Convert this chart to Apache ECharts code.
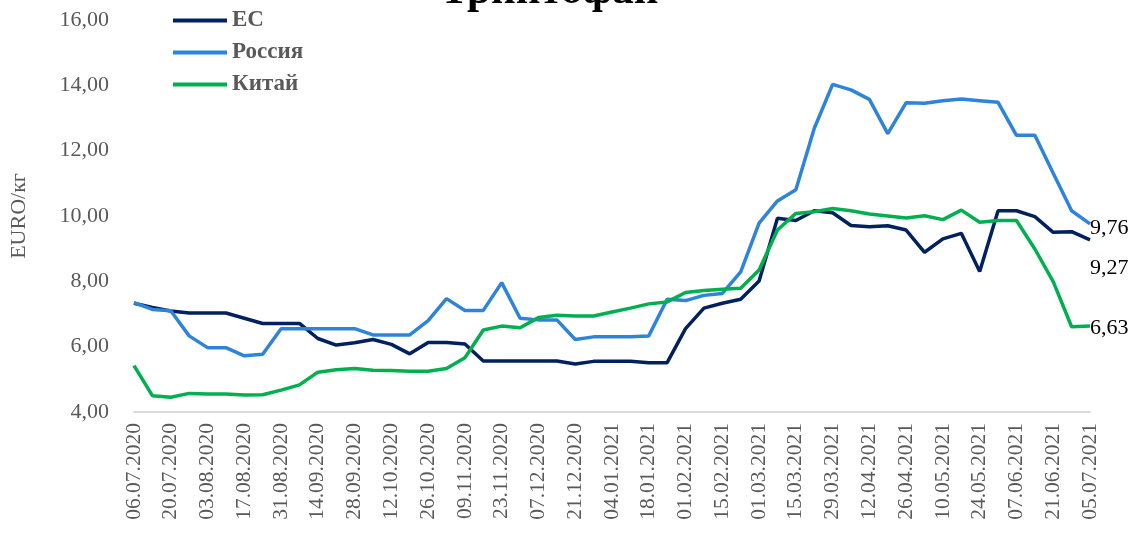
<!DOCTYPE html>
<html>
<head>
<meta charset="utf-8">
<script src="https://cdn.jsdelivr.net/npm/echarts@6/dist/echarts.min.js"></script>
<style>
  html, body { margin: 0; padding: 0; background: #fff; }
  #chart { width: 1132px; height: 540px; }
</style>
</head>
<body>
<div id="chart"></div>
<script>
// weekly dates
const dates = [
  '06.07.2020','13.07.2020','20.07.2020','27.07.2020','03.08.2020','10.08.2020','17.08.2020','24.08.2020',
  '31.08.2020','07.09.2020','14.09.2020','21.09.2020','28.09.2020','05.10.2020','12.10.2020','19.10.2020',
  '26.10.2020','02.11.2020','09.11.2020','16.11.2020','23.11.2020','30.11.2020','07.12.2020','14.12.2020',
  '21.12.2020','28.12.2020','04.01.2021','11.01.2021','18.01.2021','25.01.2021','01.02.2021','08.02.2021',
  '15.02.2021','22.02.2021','01.03.2021','08.03.2021','15.03.2021','22.03.2021','29.03.2021','05.04.2021',
  '12.04.2021','19.04.2021','26.04.2021','03.05.2021','10.05.2021','17.05.2021','24.05.2021','31.05.2021',
  '07.06.2021','14.06.2021','21.06.2021','28.06.2021','05.07.2021'
];

const euValues = [
  7.33, 7.20, 7.09, 7.03, 7.03, 7.03, 6.87, 6.71, 6.71, 6.71,
  6.25, 6.05, 6.12, 6.22, 6.07, 5.78, 6.13, 6.13, 6.08, 5.56,
  5.56, 5.56, 5.56, 5.56, 5.47, 5.55, 5.55, 5.55, 5.51, 5.51,
  6.55, 7.18, 7.33, 7.45, 8.01, 9.93, 9.86, 10.16, 10.10, 9.71,
  9.67, 9.70, 9.57, 8.89, 9.30, 9.47, 8.30, 10.16, 10.16, 9.98,
  9.50, 9.52, 9.27
];

const ruValues = [
  7.35, 7.14, 7.10, 6.33, 5.97, 5.97, 5.72, 5.77, 6.55, 6.55,
  6.55, 6.55, 6.55, 6.36, 6.36, 6.36, 6.80, 7.47, 7.11, 7.11,
  7.96, 6.87, 6.82, 6.82, 6.22, 6.30, 6.30, 6.30, 6.33, 7.45,
  7.41, 7.57, 7.63, 8.29, 9.78, 10.46, 10.80, 12.68, 14.03, 13.86,
  13.57, 12.52, 13.47, 13.45, 13.53, 13.58, 13.53, 13.48, 12.47, 12.47,
  11.31, 10.16, 9.76
];

const cnValues = [
  5.42, 4.50, 4.45, 4.57, 4.55, 4.55, 4.52, 4.53, 4.67, 4.83,
  5.22, 5.29, 5.33, 5.28, 5.27, 5.25, 5.25, 5.33, 5.66, 6.51,
  6.63, 6.58, 6.89, 6.96, 6.94, 6.94, 7.06, 7.18, 7.31, 7.37,
  7.66, 7.72, 7.76, 7.79, 8.35, 9.57, 10.08, 10.13, 10.23, 10.16,
  10.06, 10.00, 9.94, 10.01, 9.89, 10.18, 9.81, 9.86, 9.86, 8.99,
  7.99, 6.61, 6.63
];

const serif = '"Liberation Serif", "DejaVu Serif", serif';
const fmt = v => v.toFixed(2).replace('.', ',');

let myChart = echarts.init(document.getElementById('chart'));
let option = {
    backgroundColor: '#fff',
    animation: false,
    title: {
        text: 'Триптофан',
        left: 440,
        top: -30,
        padding: 0,
        textStyle: { fontFamily: serif, fontSize: 43, fontWeight: 'bold', color: '#000' }
    },
    legend: {
        orient: 'vertical',
        left: 173,
        top: 9,
        padding: 0,
        itemWidth: 54,
        itemHeight: 4,
        itemGap: 9,
        icon: 'rect',
        textStyle: { fontFamily: serif, fontSize: 23, fontWeight: 'bold', color: '#595959' },
        data: ['ЕС', 'Россия', 'Китай']
    },
    grid: { left: 132, right: 42, top: 20, bottom: 128 },
    xAxis: {
        type: 'category',
        boundaryGap: false,
        data: dates,
        axisLine: { lineStyle: { color: '#d9d9d9', width: 2 } },
        axisTick: { show: false },
        axisLabel: {
            interval: 1,
            rotate: 90,
            margin: 11,
            fontFamily: serif,
            fontSize: 21.5,
            color: '#595959'
        }
    },
    yAxis: {
        type: 'value',
        min: 4,
        max: 16,
        interval: 2,
        name: 'EURO/кг',
        nameLocation: 'middle',
        nameGap: 104,
        nameTextStyle: { fontFamily: serif, fontSize: 22, color: '#595959' },
        axisLine: { show: false },
        axisTick: { show: false },
        splitLine: { show: false },
        axisLabel: {
            margin: 25,
            fontFamily: serif,
            fontSize: 22,
            color: '#595959',
            formatter: fmt
        }
    },
    series: [
        {
            name: 'ЕС',
            type: 'line',
            data: euValues,
            symbol: 'none',
            lineStyle: { color: '#002060', width: 3.5 },
            itemStyle: { color: '#002060' },
            endLabel: {
                show: true,
                offset: [-8, 28],
                formatter: p => fmt(p.value),
                fontFamily: serif, fontSize: 22, color: '#000'
            }
        },
        {
            name: 'Россия',
            type: 'line',
            data: ruValues,
            symbol: 'none',
            lineStyle: { color: '#2E83DB', width: 3.5 },
            itemStyle: { color: '#2E83DB' },
            endLabel: {
                show: true,
                offset: [-8, 4],
                formatter: p => fmt(p.value),
                fontFamily: serif, fontSize: 22, color: '#000'
            }
        },
        {
            name: 'Китай',
            type: 'line',
            data: cnValues,
            symbol: 'none',
            lineStyle: { color: '#00B050', width: 3.5 },
            itemStyle: { color: '#00B050' },
            endLabel: {
                show: true,
                offset: [-8, 2],
                formatter: p => fmt(p.value),
                fontFamily: serif, fontSize: 22, color: '#000'
            }
        }
    ]
};
myChart.setOption(option);
</script>
</body>
</html>
